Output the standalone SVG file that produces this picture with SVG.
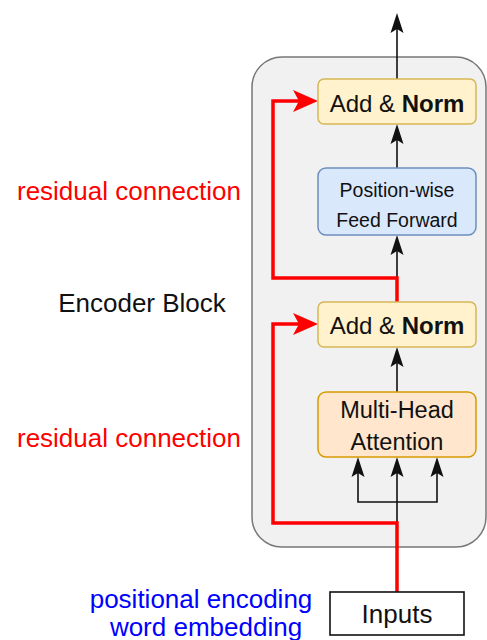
<svg xmlns="http://www.w3.org/2000/svg" width="487" height="640" viewBox="0 0 487 640">
  <style>
    text { font-family: "Liberation Sans", Arial, Helvetica, sans-serif; fill: #111; }
    .box { stroke-width: 1.5; }
    .addnorm { fill: #fff2cc; stroke: #d6b656; }
    .ffn { fill: #dae8fc; stroke: #6c8ebf; }
    .mha { fill: #ffe6cc; stroke: #d79b00; }
    .flow { fill: none; stroke: #111; stroke-width: 1.6; }
    .res { fill: none; stroke: #ff0000; stroke-width: 3.5; }
    .red { fill: #ff0000; }
    .blue { fill: #0000ff; }
  </style>
  <defs>
    <marker id="arrow" markerUnits="userSpaceOnUse" markerWidth="22" markerHeight="16" refX="4" refY="7" orient="auto">
      <path d="M0,0.5 L20,7 L0,13.5 L4,7 Z" fill="#111"/>
    </marker>
    <marker id="arrowRed" markerUnits="userSpaceOnUse" markerWidth="26" markerHeight="24" refX="6" refY="11" orient="auto">
      <path d="M0,0 L25,11 L0,22 L6,11 Z" fill="#ff0000"/>
    </marker>
  </defs>

  <!-- encoder container -->
  <g id="encoder-block">
    <rect x="252" y="57" width="234" height="490" rx="30" ry="30" fill="#f1f1f1" stroke="#777" stroke-width="1.5"/>
  </g>

  <!-- side labels -->
  <g id="label-residual-top">
    <text x="129" y="200" font-size="26" text-anchor="middle" class="red">residual connection</text>
  </g>
  <g id="label-encoder">
    <text x="142" y="312" font-size="26" text-anchor="middle">Encoder Block</text>
  </g>
  <g id="label-residual-bottom">
    <text x="129" y="447" font-size="26" text-anchor="middle" class="red">residual connection</text>
  </g>
  <g id="label-embedding">
    <text x="201" y="608" font-size="26" text-anchor="middle" class="blue">positional encoding</text>
    <text x="206" y="636" font-size="26" text-anchor="middle" class="blue">word embedding</text>
  </g>

  <!-- connectors -->
  <g id="connectors">
    <path class="flow" d="M397,124 V29" marker-end="url(#arrow)"/>
    <path class="flow" d="M397,168 V140" marker-end="url(#arrow)"/>
    <path class="flow" d="M397,302 V251" marker-end="url(#arrow)"/>
    <path class="flow" d="M397,392 V363" marker-end="url(#arrow)"/>
    <path class="flow" d="M397,524 V473" marker-end="url(#arrow)"/>
    <path class="flow" d="M397,502 H358 V473" marker-end="url(#arrow)"/>
    <path class="flow" d="M397,502 H437 V473" marker-end="url(#arrow)"/>
    <path class="res" d="M397,592 V523 H273 V324 H299" marker-end="url(#arrowRed)"/>
    <path class="res" d="M397,302 V278 H273 V101 H299" marker-end="url(#arrowRed)"/>
  </g>

  <!-- nodes -->
  <g id="add-norm-top">
    <rect class="box addnorm" x="318" y="79" width="158" height="45" rx="6"/>
    <text x="397" y="112" font-size="24" text-anchor="middle">Add &amp; <tspan font-weight="bold">Norm</tspan></text>
  </g>
  <g id="feed-forward">
    <rect class="box ffn" x="318" y="168" width="158" height="67" rx="8"/>
    <text x="397" y="197" font-size="19.5" text-anchor="middle">Position-wise</text>
    <text x="397" y="227" font-size="19.5" text-anchor="middle">Feed Forward</text>
  </g>
  <g id="add-norm-bottom">
    <rect class="box addnorm" x="318" y="302" width="158" height="45" rx="6"/>
    <text x="397" y="334" font-size="24" text-anchor="middle">Add &amp; <tspan font-weight="bold">Norm</tspan></text>
  </g>
  <g id="multi-head-attention">
    <rect class="box mha" x="318" y="392" width="158" height="65" rx="8"/>
    <text x="397" y="418" font-size="23.5" text-anchor="middle">Multi-Head</text>
    <text x="397" y="450" font-size="23.5" text-anchor="middle">Attention</text>
  </g>
  <g id="inputs">
    <rect x="330" y="592" width="134" height="43" fill="#fff" stroke="#111" stroke-width="1.6"/>
    <text x="397" y="623" font-size="26" text-anchor="middle">Inputs</text>
  </g>
</svg>
